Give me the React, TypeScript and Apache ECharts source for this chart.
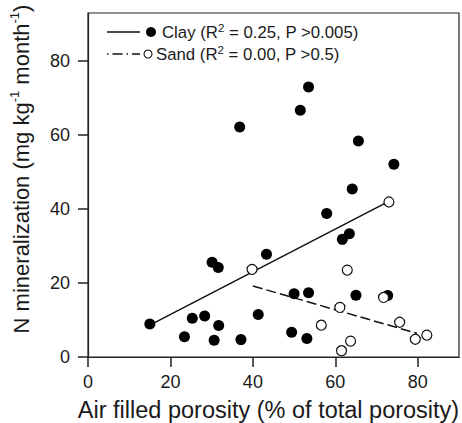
import React, { useEffect, useRef } from "react";
import * as echarts from "echarts";

const clayX = [15, 23.4, 25.3, 28.3, 30.1, 31.6, 31.7, 30.6, 37.1, 43.3, 41.3, 49.4, 50, 53.5, 53.1, 57.9, 61.7, 63.4, 64.1, 65, 72.7, 53.5, 51.5, 36.8, 65.6, 74.2];
const clayY = [8.9, 5.5, 10.5, 11.1, 25.6, 24.2, 8.5, 4.5, 4.7, 27.8, 11.5, 6.7, 17.1, 17.4, 5.0, 38.8, 31.8, 33.3, 45.4, 16.7, 16.6, 73.0, 66.7, 62.2, 58.4, 52.1];
const sandX = [39.8, 62.9, 73, 61.1, 56.6, 71.7, 75.6, 79.4, 82.2, 63.7, 61.5];
const sandY = [23.7, 23.5, 41.9, 13.4, 8.6, 16.1, 9.4, 4.8, 5.9, 4.3, 1.7];
const clayFitX = [15, 72.5];
const clayFitY = [8.6, 41.8];
const sandFitX = [40, 79.8];
const sandFitY = [19.2, 6.4];
const xTicks = [0, 20, 40, 60, 80];
const yTicks = [0, 20, 40, 60, 80];

const FONT = "'Liberation Sans', Arial, sans-serif";
const TXT = "#1a1a1a";

const zip = (a: number[], b: number[]) => a.map((v, i) => [v, b[i]]);

export default function App() {
  const ref = useRef<HTMLDivElement>(null);
  useEffect(() => {
    if (!ref.current) return;
    const chart = echarts.init(ref.current, null, { renderer: "svg" });
    const supRich = {
      sup: { fontSize: 11.5, fontFamily: FONT, color: TXT, verticalAlign: "top" as const, lineHeight: 20 },
    };
    chart.setOption({
      animation: false,
      backgroundColor: "#fff",
      textStyle: { fontFamily: FONT, color: TXT },
      grid: {
        left: 88,
        top: 13,
        right: 3,
        bottom: 66,
        outerBoundsMode: "none",
        containLabel: false,
        show: true,
        borderColor: "#222",
        borderWidth: 1.2,
      },
      xAxis: {
        type: "value",
        min: 0,
        max: 90,
        interval: 20,
        splitLine: { show: false },
        axisLine: { lineStyle: { color: "#222", width: 1.2 } },
        axisTick: { length: 10, customValues: xTicks, lineStyle: { color: "#222", width: 1.5 } },
        axisLabel: { customValues: xTicks, margin: 16, fontSize: 18, color: TXT, fontFamily: FONT },
        name: "Air filled porosity (% of total porosity)",
        nameLocation: "middle",
        nameGap: 41,
        nameTextStyle: { fontSize: 23.5, color: TXT, fontFamily: FONT, padding: [0, 10, 0, 0] },
      },
      yAxis: {
        type: "value",
        min: 0,
        max: 93,
        interval: 20,
        splitLine: { show: false },
        axisLine: { lineStyle: { color: "#222", width: 1.2 } },
        axisTick: { length: 10, customValues: yTicks, lineStyle: { color: "#222", width: 1.5 } },
        axisLabel: { customValues: yTicks, margin: 18, fontSize: 18, color: TXT, fontFamily: FONT },
        name: "N mineralization (mg kg{sup|-1} month{sup|-1})",
        nameLocation: "middle",
        nameGap: 54,
        nameTextStyle: {
          fontSize: 22,
          color: TXT,
          fontFamily: FONT,
          lineHeight: 26,
          padding: [0, 0, 0, 32],
          rich: { sup: { fontSize: 13, fontFamily: FONT, color: TXT, verticalAlign: "top", lineHeight: 26, padding: [0, 0, 10, 0] } },
        },
      },
      series: [
        {
          type: "line",
          data: zip(clayFitX, clayFitY),
          symbol: "none",
          lineStyle: { color: "#111", width: 1.5 },
          z: 2,
        },
        {
          type: "line",
          data: zip(sandFitX, sandFitY),
          symbol: "none",
          lineStyle: { color: "#111", width: 1.5, type: [10, 4] },
          z: 2,
        },
        {
          type: "scatter",
          data: zip(clayX, clayY),
          symbol: "circle",
          symbolSize: 11,
          itemStyle: { color: "#000", opacity: 1 },
          z: 3,
        },
        {
          type: "scatter",
          data: zip(sandX, sandY),
          symbol: "circle",
          symbolSize: 10,
          itemStyle: { color: "#fff", borderColor: "#111", borderWidth: 1.2, opacity: 1 },
          z: 4,
        },
      ],
      graphic: [
        { type: "line", shape: { x1: 107, y1: 32, x2: 140, y2: 32 }, style: { stroke: "#111", lineWidth: 1.5 } },
        { type: "circle", shape: { cx: 151, cy: 32, r: 5 }, style: { fill: "#000" } },
        {
          type: "text",
          x: 162,
          y: 32,
          style: {
            text: "Clay (R{sup|2} = 0.25, P >0.005)",
            fontSize: 16.8,
            fontFamily: FONT,
            fill: TXT,
            verticalAlign: "middle",
            lineHeight: 20,
            rich: supRich,
          },
        },
        { type: "line", shape: { x1: 107, y1: 54, x2: 140, y2: 54 }, style: { stroke: "#111", lineWidth: 1.5, lineDash: [1.5, 4, 10, 4] } },
        { type: "circle", shape: { cx: 148, cy: 54, r: 4 }, style: { fill: "#fff", stroke: "#111", lineWidth: 1.1 } },
        {
          type: "text",
          x: 156,
          y: 54,
          style: {
            text: "Sand (R{sup|2} = 0.00, P >0.5)",
            fontSize: 16.8,
            fontFamily: FONT,
            fill: TXT,
            verticalAlign: "middle",
            lineHeight: 20,
            rich: supRich,
          },
        },
      ],
    });
    return () => chart.dispose();
  }, []);
  return (
    <div
      ref={ref}
      style={{ position: "fixed", left: 0, top: 0, width: 462, height: 423 }}
    />
  );
}
